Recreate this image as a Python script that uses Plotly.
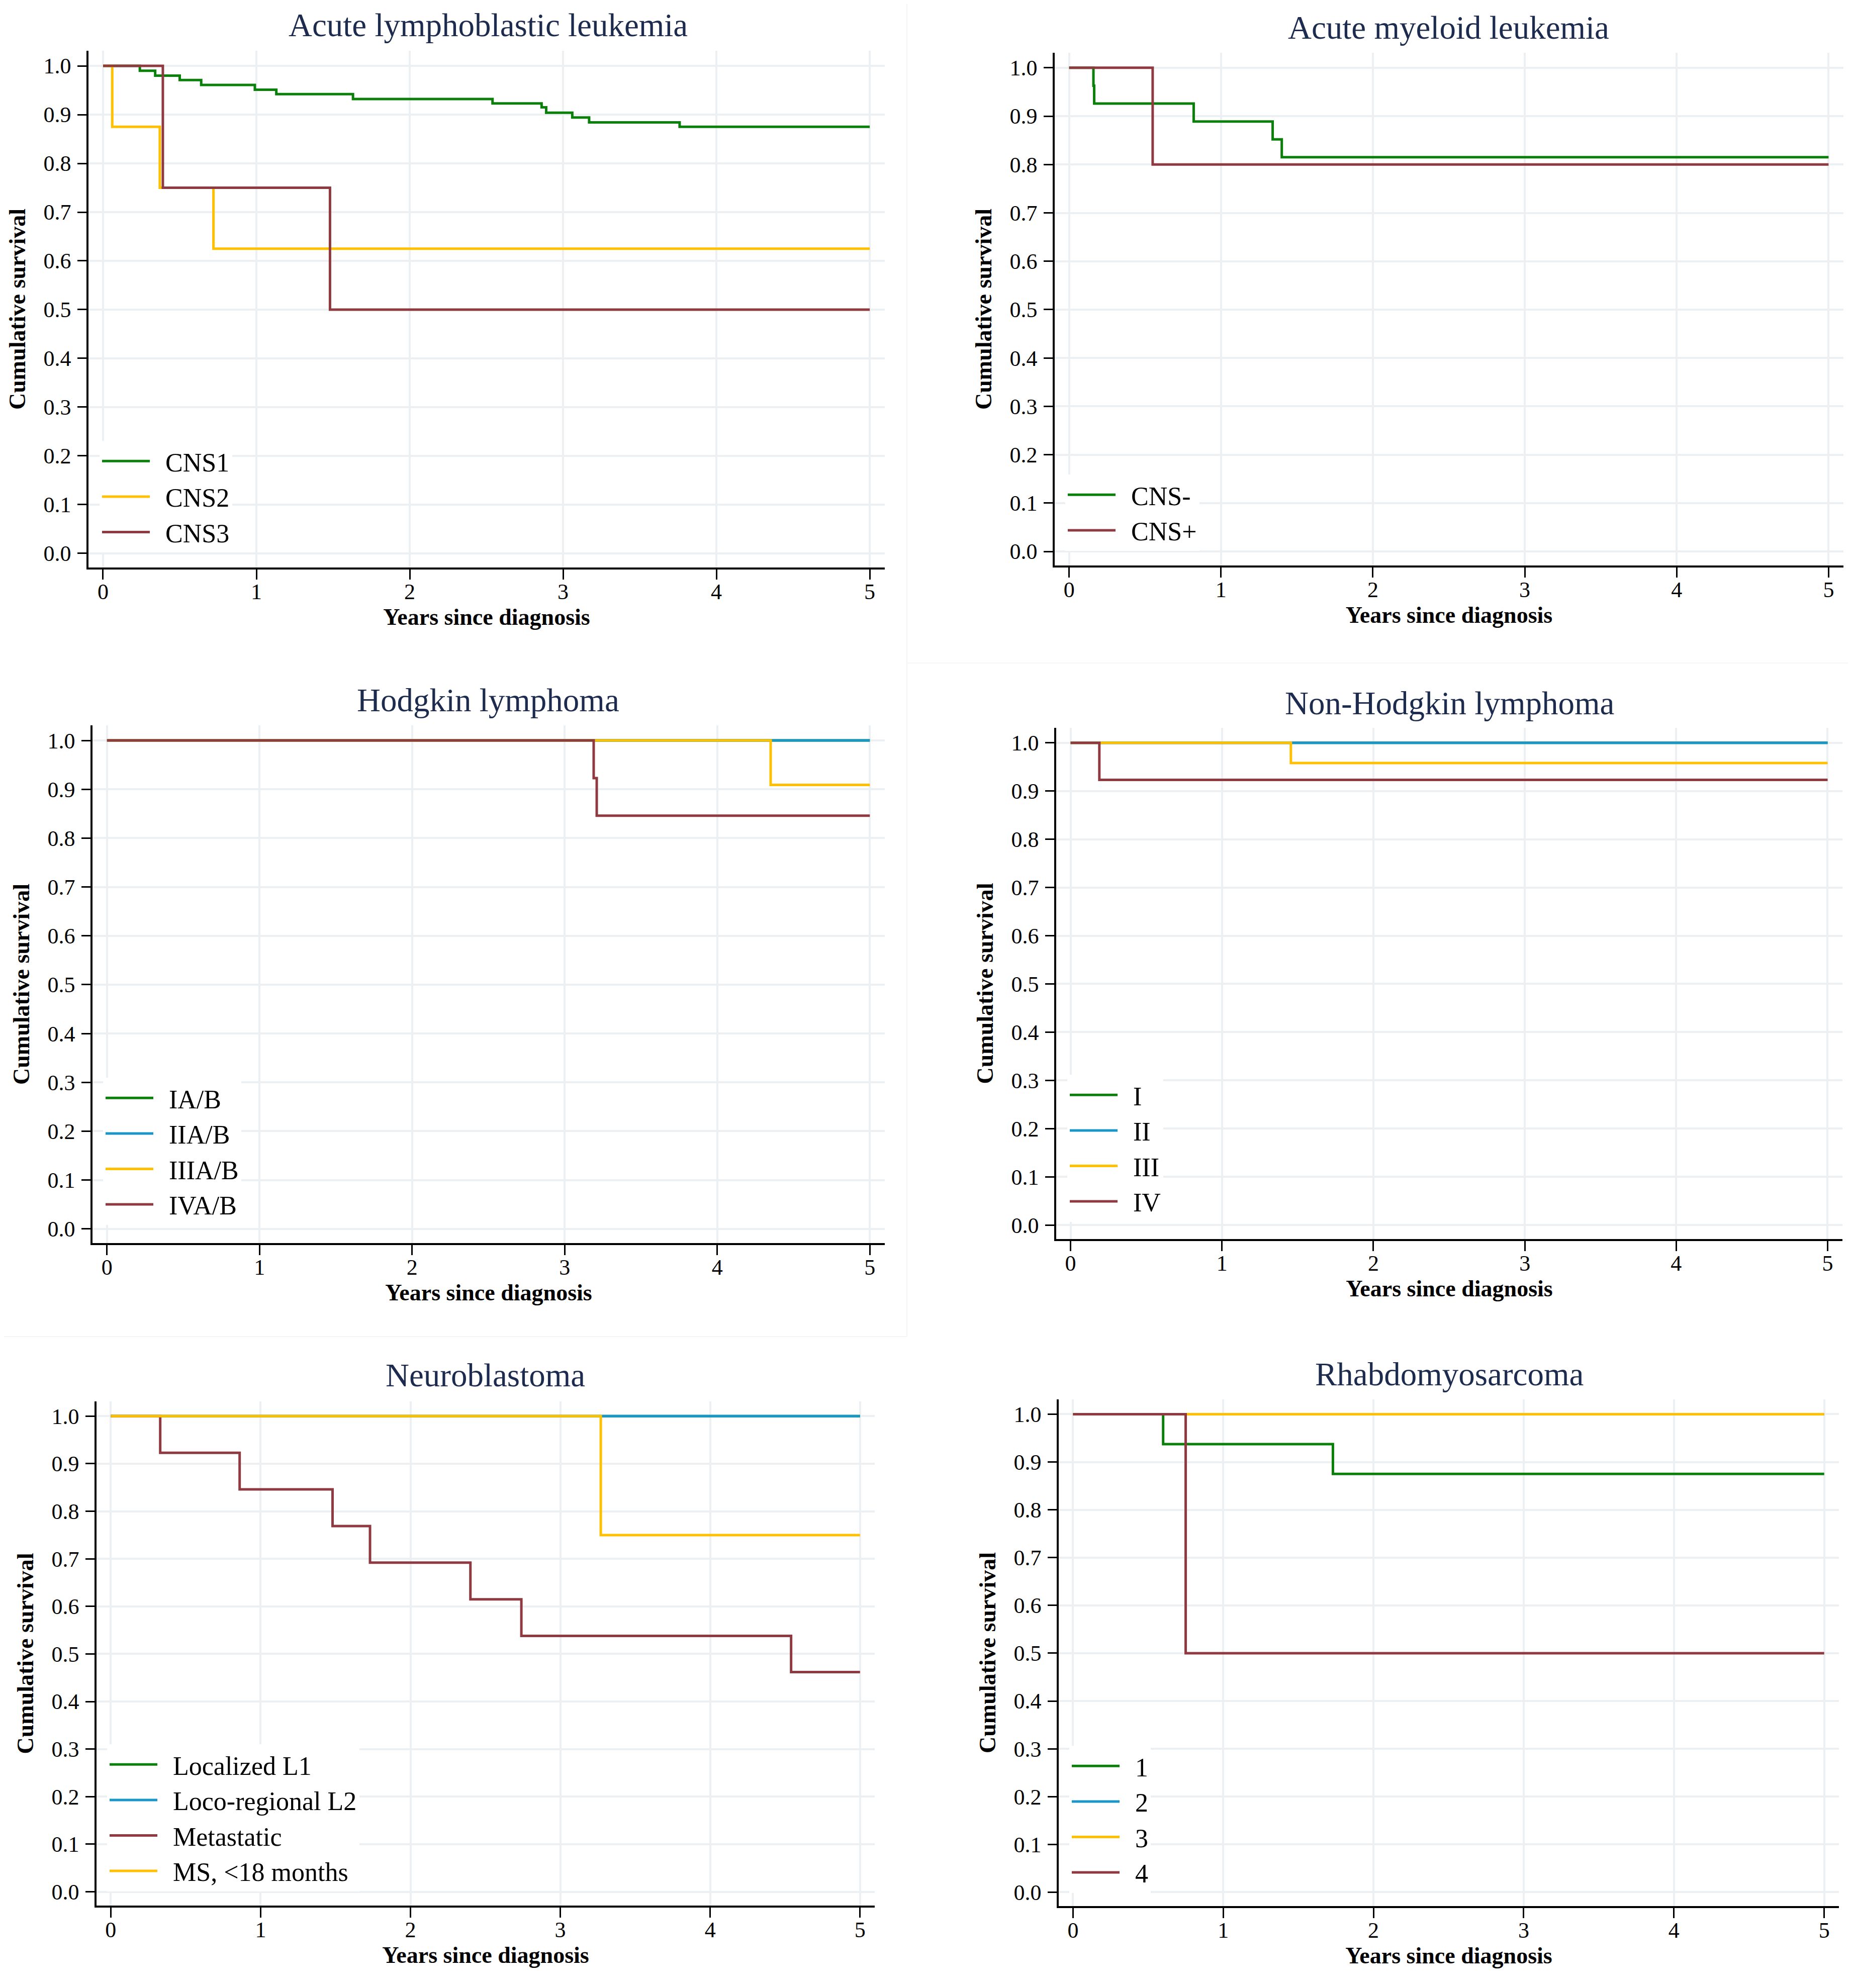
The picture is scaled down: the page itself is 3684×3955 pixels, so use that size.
import plotly.graph_objects as go

# Kaplan-Meier step data (years, survival)
all_cns1_t = [0, 0.24, 0.34, 0.50, 0.64, 0.99, 1.13, 1.63, 2.54, 2.86, 2.89, 3.06, 3.17, 3.76, 5]
all_cns1_s = [1.0, 0.990, 0.980, 0.971, 0.961, 0.951, 0.942, 0.932, 0.923, 0.915, 0.904, 0.894, 0.884, 0.875, 0.875]
all_cns2_t = [0, 0.06, 0.37, 0.72, 5]
all_cns2_s = [1.0, 0.875, 0.75, 0.625, 0.625]
all_cns3_t = [0, 0.39, 1.48, 5]
all_cns3_s = [1.0, 0.75, 0.5, 0.5]

aml_neg_t = [0, 0.16, 0.165, 0.82, 1.34, 1.40, 5]
aml_neg_s = [1.0, 0.963, 0.926, 0.889, 0.852, 0.815, 0.815]
aml_pos_t = [0, 0.55, 5]
aml_pos_s = [1.0, 0.8, 0.8]

hl_1_t = [0, 5]
hl_1_s = [1.0, 1.0]
hl_2_t = [0, 5]
hl_2_s = [1.0, 1.0]
hl_3_t = [0, 4.35, 5]
hl_3_s = [1.0, 0.909, 0.909]
hl_4_t = [0, 3.19, 3.21, 5]
hl_4_s = [1.0, 0.923, 0.846, 0.846]

nhl_1_t = [0, 5]
nhl_1_s = [1.0, 1.0]
nhl_2_t = [0, 5]
nhl_2_s = [1.0, 1.0]
nhl_3_t = [0, 1.455, 5]
nhl_3_s = [1.0, 0.958, 0.958]
nhl_4_t = [0, 0.19, 5]
nhl_4_s = [1.0, 0.923, 0.923]

nb_l1_t = [0, 5]
nb_l1_s = [1.0, 1.0]
nb_l2_t = [0, 5]
nb_l2_s = [1.0, 1.0]
nb_met_t = [0, 0.33, 0.86, 1.48, 1.73, 2.40, 2.74, 4.54, 5]
nb_met_s = [1.0, 0.923, 0.846, 0.769, 0.692, 0.615, 0.538, 0.462, 0.462]
nb_ms_t = [0, 3.27, 5]
nb_ms_s = [1.0, 0.75, 0.75]

rms_1_t = [0, 0.60, 1.73, 5]
rms_1_s = [1.0, 0.9375, 0.875, 0.875]
rms_2_t = [0, 5]
rms_2_s = [1.0, 1.0]
rms_3_t = [0, 5]
rms_3_s = [1.0, 1.0]
rms_4_t = [0, 0.75, 5]
rms_4_s = [1.0, 0.5, 0.5]

x_ticks = [0, 1, 2, 3, 4, 5]
y_ticks = [0.0, 0.1, 0.2, 0.3, 0.4, 0.5, 0.6, 0.7, 0.8, 0.9, 1.0]

GREEN = "#0a7f0a"
BLUE = "#1a96c8"
YELLOW = "#fec000"
MAROON = "#8e3a40"
TITLE_COL = "#1c2b4e"
GRID = "#ecf0f2"
FONT = "Liberation Serif"
GAP = "\u00a0\u00a0"  # space between legend line and its label

W, H = 3684, 3955

panels = [
    {"title": "Acute lymphoblastic leukemia",
     "series": [("CNS1", all_cns1_t, all_cns1_s, GREEN),
                ("CNS2", all_cns2_t, all_cns2_s, YELLOW),
                ("CNS3", all_cns3_t, all_cns3_s, MAROON)],
     "dom": (168, 1752, 93, 1121), "title_xy": (963, 42), "leg": (190, 869)},
    {"title": "Acute myeloid leukemia",
     "series": [("CNS-", aml_neg_t, aml_neg_s, GREEN),
                ("CNS+", aml_pos_t, aml_pos_s, MAROON)],
     "dom": (2090, 3659, 97, 1117), "title_xy": (2873, 47), "leg": (2111, 936)},
    {"title": "Hodgkin lymphoma",
     "series": [("IA/B", hl_1_t, hl_1_s, GREEN),
                ("IIA/B", hl_2_t, hl_2_s, BLUE),
                ("IIIA/B", hl_3_t, hl_3_s, YELLOW),
                ("IVA/B", hl_4_t, hl_4_s, MAROON)],
     "dom": (176, 1752, 1435, 2465), "title_xy": (963, 1385), "leg": (197, 2136)},
    {"title": "Non-Hodgkin lymphoma",
     "series": [("I", nhl_1_t, nhl_1_s, GREEN),
                ("II", nhl_2_t, nhl_2_s, BLUE),
                ("III", nhl_3_t, nhl_3_s, YELLOW),
                ("IV", nhl_4_t, nhl_4_s, MAROON)],
     "dom": (2093, 3657, 1440, 2457), "title_xy": (2875, 1391), "leg": (2115, 2130)},
    {"title": "Neuroblastoma",
     "series": [("Localized L1", nb_l1_t, nb_l1_s, GREEN),
                ("Loco-regional L2", nb_l2_t, nb_l2_s, BLUE),
                ("Metastatic", nb_met_t, nb_met_s, MAROON),
                ("MS, <18 months", nb_ms_t, nb_ms_s, YELLOW)],
     "dom": (184, 1732, 2780, 3783), "title_xy": (957, 2728), "leg": (205, 3462)},
    {"title": "Rhabdomyosarcoma",
     "series": [("1", rms_1_t, rms_1_s, GREEN),
                ("2", rms_2_t, rms_2_s, BLUE),
                ("3", rms_3_t, rms_3_s, YELLOW),
                ("4", rms_4_t, rms_4_s, MAROON)],
     "dom": (2098, 3650, 2776, 3784), "title_xy": (2875, 2726), "leg": (2119, 3465)},
]

fig = go.Figure()
layout = {}
annotations = []

for i, p in enumerate(panels, start=1):
    sfx = "" if i == 1 else str(i)
    leg_name = "legend" + sfx
    for name, t, s, col in p["series"]:
        fig.add_trace(go.Scatter(
            x=t, y=s, name=GAP + name, mode="lines", line_shape="hv",
            line=dict(color=col, width=5),
            xaxis="x" + sfx, yaxis="y" + sfx, legend=leg_name,
        ))
    x0, x1, y0, y1 = p["dom"]
    layout["xaxis" + sfx] = dict(
        domain=[x0 / W, x1 / W], anchor="y" + sfx, range=[-0.095, 5.098],
        tickvals=x_ticks, ticks="outside", ticklen=20, tickwidth=3, tickcolor="black",
        ticklabelstandoff=-14,
        showline=True, linecolor="black", linewidth=3.5, mirror=False,
        showgrid=True, gridcolor=GRID, gridwidth=4, zeroline=False,
        tickfont=dict(family=FONT, size=44, color="black"),
        title=dict(text="<b>Years since diagnosis</b>", standoff=8,
                   font=dict(family=FONT, size=46, color="black")),
    )
    layout["yaxis" + sfx] = dict(
        domain=[1 - y1 / H, 1 - y0 / H], anchor="x" + sfx, range=[-0.029, 1.031],
        tickvals=y_ticks, tickformat=".1f", ticks="outside", ticklen=18, tickwidth=3,
        tickcolor="black", ticklabelstandoff=4,
        showline=True, linecolor="black", linewidth=3.5,
        showgrid=True, gridcolor=GRID, gridwidth=4, zeroline=False,
        tickfont=dict(family=FONT, size=44, color="black"),
        title=dict(text="<b>Cumulative survival</b>", standoff=22,
                   font=dict(family=FONT, size=46, color="black")),
    )
    lx, ly = p["leg"]
    layout[leg_name] = dict(
        x=lx / W, y=1 - ly / H, xanchor="left", yanchor="top", xref="paper", yref="paper",
        bgcolor="white", borderwidth=0, itemwidth=95,
        font=dict(family=FONT, size=52, color="black"),
    )
    tx, ty = p["title_xy"]
    annotations.append(dict(
        text=p["title"], x=tx / W, y=1 - ty / H, xref="paper", yref="paper",
        xanchor="center", yanchor="middle", showarrow=False,
        font=dict(family=FONT, size=65, color=TITLE_COL),
    ))

# faint borders of the original image tiles
shapes = [
    dict(type="line", xref="paper", yref="paper", x0=1796 / W, x1=1796 / W, y0=1 - 2651 / H, y1=1,
         line=dict(color="#f4f5f6", width=2)),
    dict(type="line", xref="paper", yref="paper", x0=1796 / W, x1=1, y0=1 - 1311 / H, y1=1 - 1311 / H,
         line=dict(color="#f4f5f6", width=2)),
    dict(type="line", xref="paper", yref="paper", x0=0, x1=1796 / W, y0=1 - 2651 / H, y1=1 - 2651 / H,
         line=dict(color="#f4f5f6", width=2)),
]

fig.update_layout(
    width=W, height=H, margin=dict(l=0, r=0, t=0, b=0),
    paper_bgcolor="white", plot_bgcolor="white",
    font=dict(family=FONT, color="black"),
    annotations=annotations, shapes=shapes, showlegend=True,
    **layout,
)

fig.write_html("out.html")
